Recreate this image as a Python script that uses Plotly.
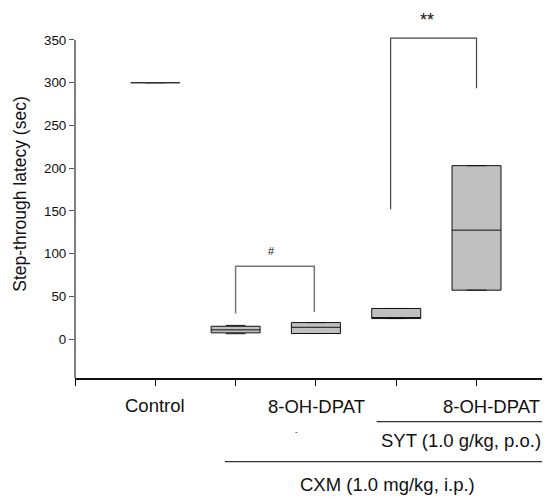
import plotly.graph_objects as go

# ---- data ----
positions = [1, 2, 3, 4, 5]
q1 = [300, 7.5, 6.7, 24.2, 57.4]
median = [300, 11, 14, 24.2, 127.6]
q3 = [300, 15.2, 19.5, 36, 203]
lowerfence = [300, 6.5, 6.7, 24.2, 57.4]
upperfence = [300, 16.2, 19.5, 36, 203]

yticks = [0, 50, 100, 150, 200, 250, 300, 350]
y_min, y_axis_top = -45.3, 350

hash_x = [2, 2, 2.98, 2.98]
hash_y = [30, 85.5, 85.5, 32]
star_x = [3.93, 3.93, 5.0, 5.0]
star_y = [152, 352, 352, 293.6]

FONT = "Arial, Liberation Sans, sans-serif"
Y_TOP = 385  # room above the axis for the significance bracket

fig = go.Figure()

for i, p in enumerate(positions):
    is_ctrl = (i == 0)
    fig.add_trace(go.Box(
        x=[p], q1=[q1[i]], median=[median[i]], q3=[q3[i]],
        lowerfence=[lowerfence[i]], upperfence=[upperfence[i]],
        width=0.61, whiskerwidth=0.4,
        fillcolor="#c0c0c0",
        line=dict(color="#333333" if is_ctrl else "#111111", width=1),
        boxpoints=False, showlegend=False, hoverinfo="skip",
    ))

fig.add_trace(go.Scatter(x=hash_x, y=hash_y, mode="lines",
                         line=dict(color="#777777", width=1.5),
                         showlegend=False, hoverinfo="skip"))
fig.add_trace(go.Scatter(x=star_x, y=star_y, mode="lines",
                         line=dict(color="#444444", width=1.2),
                         showlegend=False, hoverinfo="skip"))

annos = [
    dict(x=2.45, y=103, xref="x", yref="y", text="#", font=dict(size=11)),
    dict(x=4.38, y=373, xref="x", yref="y", text="**", font=dict(size=18)),
    dict(x=0.1684, y=-0.0734, xref="paper", yref="paper", text="Control", font=dict(size=18.5)),
    dict(x=0.5074, y=-0.0761, xref="paper", yref="paper", text="8-OH-DPAT", font=dict(size=18.5)),
    dict(x=0.8758, y=-0.0761, xref="paper", yref="paper", text="8-OH-DPAT", font=dict(size=18.5)),
    dict(x=0.4667, y=-0.1460, xref="paper", yref="paper", text="-", font=dict(size=8)),
    dict(x=0.8126, y=-0.1685, xref="paper", yref="paper", text="SYT (1.0 g/kg, p.o.)", font=dict(size=18.5)),
    dict(x=0.6589, y=-0.2885, xref="paper", yref="paper", text="CXM (1.0 mg/kg, i.p.)", font=dict(size=18.5)),
]
for a in annos:
    a["font"].update(family=FONT, color="#111111")
    fig.add_annotation(showarrow=False, xanchor="center", yanchor="middle", borderpad=0, **a)

# y axis line only up to 350
y_line_top = (y_axis_top - y_min) / (Y_TOP - y_min)
fig.add_shape(type="line", xref="paper", yref="paper", x0=0, x1=0, y0=0, y1=y_line_top,
              line=dict(color="#555555", width=1.5), layer="above")

fig.add_shape(type="line", xref="paper", yref="paper", x0=0.635, x1=1.0, y0=-0.1188, y1=-0.1188,
              line=dict(color="#333333", width=1.2))
fig.add_shape(type="line", xref="paper", yref="paper", x0=0.3158, x1=1.0, y0=-0.2275, y1=-0.2275,
              line=dict(color="#333333", width=1.2))

# page body adds an 8px margin, so the figure is 8px smaller than the window
fig.update_layout(
    width=542, height=489,
    margin=dict(l=67, r=0, t=2.1, b=119, autoexpand=False),
    paper_bgcolor="white", plot_bgcolor="white",
    font=dict(family=FONT, color="#111111"),
    showlegend=False,
    xaxis=dict(range=[0, 5.915], tickvals=[0, 1, 2, 3, 4, 5], ticktext=[""] * 6,
               ticks="outside", ticklen=6, tickcolor="#111111", tickwidth=1.2,
               showline=True, linecolor="#111111", linewidth=1.5,
               showgrid=False, zeroline=False, automargin=False),
    yaxis=dict(range=[y_min, Y_TOP], tickvals=yticks, ticks="outside", ticklen=5,
               tickcolor="#555555", tickwidth=1.2,
               showline=False,
               showgrid=False, zeroline=False, automargin=False,
               tickfont=dict(size=13.4, family=FONT, color="#111111"),
               title=dict(text="Step-through latecy (sec)", font=dict(size=17.5, family=FONT, color="#111111"),
                          standoff=12)),
)

fig.write_html("out.html")
